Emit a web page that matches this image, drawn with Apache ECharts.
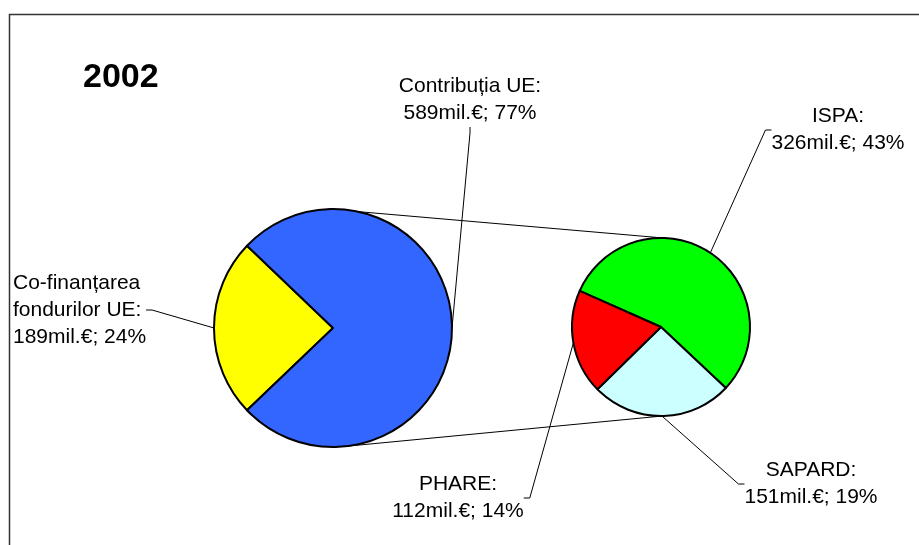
<!DOCTYPE html>
<html>
<head>
<meta charset="utf-8">
<script src="https://cdn.jsdelivr.net/npm/echarts@6/dist/echarts.min.js"></script>
<style>html,body{margin:0;padding:0;background:#fff}#c{width:919px;height:545px}</style>
</head>
<body>
<div id="c"></div>
<script>
const titleText = '2002';
const mainNames = ['Co-finanțarea\nfondurilor UE', 'Contribuția UE'];
const mainValues = [189, 589];
const mainPct = [24, 77];
const subNames = ['ISPA', 'SAPARD', 'PHARE'];
const subValues = [326, 151, 112];
const subPct = [43, 19, 14];

const mainColors = ['#FFFF00', '#3366FF'];
const subColors = ['#00FF00', '#CCFFFF', '#FF0000'];

const bigC = [333, 328], bigR = 119;
const smallC = [661, 327], smallR = 89;

const mainSum = mainValues.reduce((a, b) => a + b, 0);
const mainStart = 180 + mainValues[0] / mainSum * 180;

const mainLabelPos = [
  {x: 13, y: 310, align: 'left'},
  {x: 470, y: 100, align: 'center'}
];
const subLabelPos = [
  {x: 838, y: 130, align: 'center'},
  {x: 811, y: 484, align: 'center'},
  {x: 458, y: 498, align: 'center'}
];

function pt(c, r, deg) {
  const a = deg * Math.PI / 180;
  return [c[0] + r * Math.cos(a), c[1] - r * Math.sin(a)];
}

const font = {fontFamily: 'Liberation Sans, Arial, sans-serif', fontSize: 21, lineHeight: 27, color: '#000'};

const chart = echarts.init(document.getElementById('c'), null, {renderer: 'canvas'});
const t1 = pt(bigC, bigR, 78), t2 = pt(smallC, smallR, 88);
const b1 = pt(bigC, bigR, -84), b2 = pt(smallC, smallR, -89);

chart.setOption({
  animation: false,
  backgroundColor: '#fff',
  title: {
    text: titleText, left: 78, top: 56,
    textStyle: {fontFamily: 'Liberation Sans, Arial, sans-serif', fontSize: 34, fontWeight: 'bold', color: '#000'}
  },
  graphic: [
    {type: 'rect', shape: {x: 9.5, y: 14.5, width: 930, height: 560}, style: {fill: 'none', stroke: '#333', lineWidth: 1.5}, z: 0},
    {type: 'line', shape: {x1: t1[0], y1: t1[1], x2: t2[0], y2: t2[1]}, style: {stroke: '#000', lineWidth: 1}, z: 1},
    {type: 'line', shape: {x1: b1[0], y1: b1[1], x2: b2[0], y2: b2[1]}, style: {stroke: '#000', lineWidth: 1}, z: 1}
  ],
  series: [
    {
      type: 'pie',
      center: bigC,
      radius: bigR,
      startAngle: mainStart,
      clockwise: true,
      silent: true,
      itemStyle: {borderColor: '#000', borderWidth: 2},
      data: mainNames.map((n, i) => ({name: n, value: mainValues[i], itemStyle: {color: mainColors[i]}})),
      label: Object.assign({
        show: true, position: 'outside',
        formatter: p => mainNames[p.dataIndex] + ':\n' + mainValues[p.dataIndex] + 'mil.€; ' + mainPct[p.dataIndex] + '%'
      }, font),
      labelLine: {show: true, length: 20, length2: 6, lineStyle: {color: '#000', width: 1}},
      labelLayout: p => Object.assign({verticalAlign: 'middle', moveOverlap: false}, mainLabelPos[p.dataIndex])
    },
    {
      type: 'pie',
      center: smallC,
      radius: smallR,
      startAngle: 156,
      clockwise: true,
      silent: true,
      itemStyle: {borderColor: '#000', borderWidth: 2},
      data: subNames.map((n, i) => ({name: n, value: subValues[i], itemStyle: {color: subColors[i]}})),
      label: Object.assign({
        show: true, position: 'outside',
        formatter: p => subNames[p.dataIndex] + ':\n' + subValues[p.dataIndex] + 'mil.€; ' + subPct[p.dataIndex] + '%'
      }, font),
      labelLine: {show: true, length: 20, length2: 6, lineStyle: {color: '#000', width: 1}},
      labelLayout: p => Object.assign({verticalAlign: 'middle', moveOverlap: false}, subLabelPos[p.dataIndex])
    }
  ]
});
</script>
</body>
</html>
